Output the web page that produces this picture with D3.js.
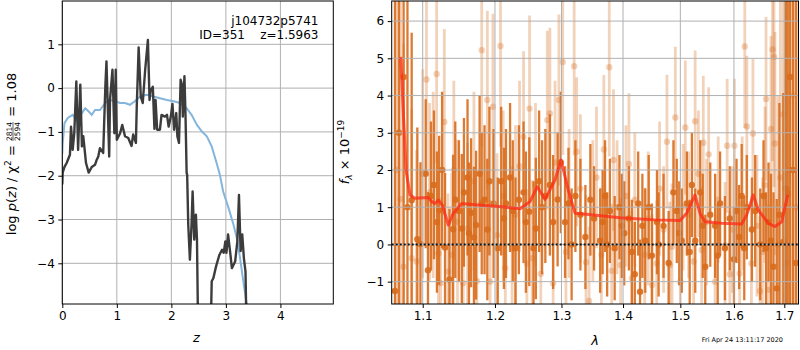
<!DOCTYPE html>
<html><head><meta charset="utf-8">
<script src="https://cdn.jsdelivr.net/npm/d3@7"></script>
<style>
body{margin:0;background:#fff}
svg{display:block}
text{font-family:"DejaVu Sans",sans-serif;fill:#000}
</style>
</head><body><svg id="c" width="800" height="350"></svg>
<script>
// ---------- Left panel data: log p(z) ----------
const zPz = [0,0.007,0.04,0.08,0.14,0.16,0.19,0.22,0.257,0.29,0.33,0.36,0.385,0.435,0.484,0.54,0.6,0.63,0.66,0.69,0.75,0.79,0.81,0.86,0.875,0.92,0.955,0.98,1.0,1.06,1.10,1.15,1.21,1.27,1.30,1.35,1.365,1.40,1.44,1.475,1.52,1.57,1.60,1.62,1.66,1.69,1.71,1.74,1.79,1.82,1.88,1.92,1.95,1.99,2.02,2.05,2.09,2.11,2.14,2.17,2.20,2.21,2.24,2.26,2.28,2.29,2.31,2.34,2.37,2.39,2.42,2.45,2.47,2.495,2.715,2.74,2.77,2.82,2.88,2.93,2.96,2.99,3.01,3.04,3.08,3.11,3.17,3.21,3.24,3.27,3.30,3.33,3.36,3.385];
const logPz = [-2.2,-1.93,-1.80,-1.71,-1.52,-0.88,-1.41,-1.02,0.15,-1.41,0.08,-1.33,-1.10,-1.71,-1.93,-1.80,-1.75,-1.64,-1.56,-1.37,-1.48,0.06,0.61,-1.56,-0.27,0.42,-1.03,0.42,-1.18,-1.03,-0.84,-1.10,-1.14,-1.32,-1.06,-1.25,-0.45,0.93,-0.20,-0.34,0.42,1.10,-0.27,-0.05,0.03,-0.93,-0.27,-0.95,-0.95,-0.61,-0.65,-0.61,-0.88,-0.65,-0.36,-0.95,-0.57,-1.10,-1.25,0.19,0.05,-0.65,0.27,-0.65,-1.93,-1.98,-3.12,-3.92,-3.12,-2.36,-3.46,-2.89,-3.46,-6,-6,-4.41,-4.34,-4.07,-3.81,-3.69,-3.76,-3.50,-3.76,-3.34,-3.76,-4.11,-3.96,-3.50,-2.44,-3.72,-3.34,-3.88,-4.19,-6];
const zPrior = [0,0.007,0.04,0.1,0.19,0.28,0.36,0.42,0.48,0.54,0.6,0.69,0.79,0.87,0.97,1.06,1.15,1.24,1.33,1.43,1.55,1.67,1.79,1.92,2.04,2.16,2.28,2.37,2.47,2.56,2.65,2.74,2.83,2.89,2.95,3.05,3.14,3.20,3.26,3.32,3.38,3.42];
const logPrior = [-1.5,-1.26,-0.80,-0.68,-0.61,-0.76,-0.57,-0.46,-0.53,-0.61,-0.50,-0.50,-0.34,-0.27,-0.30,-0.34,-0.34,-0.38,-0.30,-0.19,-0.15,-0.19,-0.23,-0.27,-0.30,-0.34,-0.46,-0.61,-0.84,-0.99,-1.10,-1.33,-1.71,-1.98,-2.36,-2.74,-3.12,-3.42,-3.88,-4.41,-4.92,-6];
const zTicks = [0,1,2,3,4];
const pzTicks = [-4,-3,-2,-1,0,1];

// ---------- Right panel data: spectrum ----------
const lamDark = [1.0639,1.069,1.075,1.080,1.0855,1.0929,1.097,1.104,1.107,1.111,1.115,1.119,1.122,1.126,1.130,1.136,1.141,1.144,1.149,1.153,1.156,1.161,1.163,1.166,1.170,1.173,1.178,1.181,1.185,1.189,1.192,1.198,1.204,1.209,1.213,1.216,1.222,1.226,1.230,1.235,1.242,1.2455,1.2506,1.257,1.2605,1.2655,1.270,1.275,1.282,1.287,1.294,1.299,1.3056,1.311,1.316,1.322,1.330,1.338,1.346,1.352,1.362,1.366,1.370,1.3735,1.378,1.386,1.394,1.398,1.402,1.4099,1.415,1.420,1.4258,1.429,1.433,1.438,1.444,1.4495,1.4584,1.4613,1.470,1.479,1.4876,1.4936,1.498,1.5026,1.5118,1.517,1.521,1.5272,1.5364,1.541,1.5457,1.555,1.5642,1.569,1.5735,1.5827,1.592,1.600,1.605,1.610,1.615,1.620,1.625,1.635,1.6414,1.6514,1.658,1.663,1.668,1.673,1.678,1.6846,1.690,1.698,1.703,1.707,1.712,1.718,1.724];
const fluxDark = [-1.25,3.0,4.5,1.0,1.19,0.14,0.01,1.9,-0.69,1.3,
  1.6,0.6,0.92,2.0,-0.08,-0.94,0.41,1.2,0.9,0.43,
  1.4,1.8,0.30,0.85,0.19,0.52,1.9,1.1,1.2,0.4,
  1.7,1.1,-0.1,1.7,0.7,1.1,1.8,0.9,-0.1,1.2,
  1.4,0.6,0.88,-0.1,0.43,1.7,1.0,1.3,1.6,0.6,
  1.21,2.2,0.6,1.1,0.0,1.3,0.8,0.2,1.2,0.7,
  0.1,0.6,1.3,0.0,0.9,-0.1,1.0,0.5,0.3,0.7,
  -0.2,-0.8,1.1,-1.27,0.5,0.1,1.0,-0.3,0.6,0.0,
  0.5,-0.5,1.4,0.9,0.3,0.1,1.1,-0.2,1.6,0.1,
  1.4,0.5,-0.6,0.8,0.5,-0.3,1.1,-0.1,0.7,-0.4,
  0.9,0.2,1.3,-0.1,1.0,0.4,0.9,0.0,1.3,-0.1,
  0.6,0.1,-0.6,-1.18,0.8,0.07,1.5,1.37,4.5,2.0,-0.5];
const errDark = [9,9,8,6.5,4.5,3.0,2.2,2.0,2.1,2.0,
  2.0,1.9,2.0,2.1,2.0,1.9,2.0,2.1,1.9,2.0,
  2.0,2.1,1.9,2.0,1.9,2.0,2.1,1.9,2.0,1.9,
  2.0,2.0,1.9,2.0,1.9,2.0,2.0,1.9,1.9,2.0,
  1.9,1.9,2.0,1.8,1.9,1.9,1.8,1.8,1.9,1.8,
  1.8,1.9,1.5,1.5,1.5,1.5,1.5,1.4,1.5,1.4,
  1.4,1.4,1.5,1.4,1.4,1.4,1.4,1.4,1.4,1.4,
  1.4,1.4,1.4,1.4,1.4,1.4,1.4,1.4,1.4,1.4,
  1.4,1.4,1.4,1.4,1.4,1.4,1.4,1.4,1.4,1.4,
  1.4,1.4,1.4,1.4,1.4,1.4,1.4,1.4,1.4,1.4,
  1.4,1.4,1.4,1.4,1.4,1.4,1.5,1.5,1.5,1.5,
  1.6,1.8,2.0,2.4,3.0,4,6,7,9,9,9];
const lamLight = [1.066,1.071,1.075,1.0855,1.0918,1.100,1.105,1.109,1.114,1.1186,1.121,1.124,1.129,1.134,1.139,1.142,1.147,1.155,1.161,1.170,1.174,1.181,1.189,1.193,1.197,1.203,1.208,1.212,1.215,1.225,1.230,1.236,1.242,1.247,1.251,1.255,1.260,1.268,1.278,1.282,1.287,1.290,1.296,1.302,1.307,1.312,1.320,1.324,1.330,1.339,1.344,1.350,1.356,1.364,1.368,1.377,1.381,1.384,1.390,1.396,1.405,1.410,1.415,1.420,1.437,1.443,1.450,1.458,1.463,1.470,1.476,1.481,1.485,1.491,1.500,1.505,1.509,1.515,1.524,1.527,1.533,1.539,1.542,1.548,1.552,1.564,1.570,1.583,1.587,1.592,1.597,1.601,1.611,1.616,1.621,1.625,1.634,1.637,1.645,1.651,1.656,1.661,1.663,1.668,1.673,1.676,1.679,1.681,1.687,1.692,1.698,1.704,1.711,1.718,1.725];
const fluxLight = [2.0,1.22,-0.6,-0.37,-0.46,1.9,4.43,1.40,1.6,4.58,-0.24,-1.04,3.29,-0.73,-0.28,2.0,0.61,-1.04,0.43,1.7,-0.98,5.22,3.88,-1.0,3.70,0.25,5.33,1.3,-0.64,-0.1,0.8,2.1,2.89,-0.51,3.65,-0.37,1.6,-0.79,3.34,3.52,-1.04,2.2,3.88,4.9,-0.2,1.1,4.79,2.49,1.5,-0.48,-1.52,0.9,1.8,-0.28,2.55,4.76,-0.71,2.27,1.0,-0.55,1.3,2.16,-0.91,1.2,-0.28,0.7,-1.09,-0.51,1.5,0.4,2.76,-0.55,-0.06,3.41,-1.0,1.0,3.14,0.8,-0.46,3.31,1.9,-0.15,2.73,0.6,2.42,-1.0,1.2,-0.02,2.65,-0.80,0.4,2.65,-0.78,1.1,5.32,3.17,-0.51,2.98,0.5,-1.25,-0.2,1.6,3.91,-1.22,3.10,5.24,5.04,2.71,0.0,1.8,3.5,-0.5,2.0,4.0,1.0];
const errLight = [8,7,6,4,3,2.8,2.6,2.4,2.5,2.4,2.2,2.3,2.5,2.1,2.2,2.4,2.2,2.0,2.3,2.4,2.0,2.6,2.4,2.2,2.5,2.2,2.7,2.3,2.1,2.2,2.4,2.3,2.3,2.0,2.5,2.1,2.2,2.0,2.4,2.3,2.0,2.2,2.3,2.5,2.0,2.0,2.4,2.0,2.0,1.8,2.0,1.9,1.9,1.8,2.0,2.4,1.8,1.9,1.8,1.8,1.9,1.9,1.8,1.8,1.8,1.8,1.9,1.7,1.8,1.7,1.8,1.7,1.7,1.9,1.8,1.7,1.8,1.7,1.7,1.9,1.7,1.7,1.8,1.7,1.8,1.8,1.7,1.7,1.8,1.7,1.7,1.8,1.8,1.8,2.2,1.9,1.8,2.0,1.9,2.0,2.0,2.1,2.2,2.3,2.5,3.0,3.5,3.0,4,5,6,8,9,9,9];
const lamModel = [1.0713,1.0745,1.0781,1.0833,1.0898,1.1074,1.1120,1.1164,1.1209,1.1263,1.1344,1.1413,1.1529,1.1761,1.2097,1.2367,1.2517,1.2627,1.2745,1.2899,1.2993,1.3107,1.3214,1.3401,1.3949,1.4549,1.4994,1.5115,1.5267,1.5359,1.5452,1.5766,1.6150,1.6247,1.6377,1.6476,1.6675,1.6811,1.6947,1.7069];
const fluxModel = [5.04,3.6,2.0,1.33,1.24,1.26,1.15,1.10,1.19,1.06,0.52,0.84,1.10,1.06,1.01,0.96,1.15,1.55,1.21,1.73,2.27,1.46,0.84,0.81,0.72,0.66,0.64,0.84,1.33,0.84,0.61,0.57,0.55,0.79,1.33,0.92,0.57,0.48,0.61,1.33];
const lamTicks = [1.1,1.2,1.3,1.4,1.5,1.6,1.7];
const fluxTicks = [-1,0,1,2,3,4,5,6];

// ---------- Drawing ----------
const svg = d3.select('#c');
svg.append('rect').attr('width',800).attr('height',350).attr('fill','#fff');
const gridC = '#b0b0b0', orange = '#d86b1c';

const L = {x0:62.3, x1:333.3, y0:1, y1:304};
const R = {x0:391.7, x1:798.5, y0:1, y1:304};
const xL = d3.scaleLinear().domain([0,4.97]).range([L.x0,L.x1]);
const yL = d3.scaleLinear().domain([-4.929,1.989]).range([L.y1,L.y0]);
const xR = d3.scaleLog().domain([1.0597,1.7293]).range([R.x0,R.x1]);
const yR = d3.scaleLinear().domain([-1.6,6.54]).range([R.y1,R.y0]);

const defs = svg.append('defs');
defs.append('clipPath').attr('id','clipL').append('rect').attr('x',L.x0).attr('y',L.y0).attr('width',L.x1-L.x0).attr('height',L.y1-L.y0);
defs.append('clipPath').attr('id','clipR').append('rect').attr('x',R.x0).attr('y',R.y0).attr('width',R.x1-R.x0).attr('height',R.y1-R.y0);

function grid(g, xs, ys, xt, yt, P){
  g.selectAll('line.gx').data(xt).join('line').attr('class','gx')
    .attr('x1',d=>xs(d)).attr('x2',d=>xs(d)).attr('y1',P.y0).attr('y2',P.y1)
    .attr('stroke',gridC).attr('stroke-width',1);
  g.selectAll('line.gy').data(yt).join('line').attr('class','gy')
    .attr('y1',d=>ys(d)).attr('y2',d=>ys(d)).attr('x1',P.x0).attr('x2',P.x1)
    .attr('stroke',gridC).attr('stroke-width',1);
}
function axes(xs, ys, xt, yt, P, xfmt, yfmt){
  const ax = svg.append('g').attr('transform',`translate(0,${P.y1})`)
    .call(d3.axisBottom(xs).tickValues(xt).tickFormat(xfmt).tickSize(4).tickPadding(3.5));
  const ay = svg.append('g').attr('transform',`translate(${P.x0},0)`)
    .call(d3.axisLeft(ys).tickValues(yt).tickFormat(yfmt).tickSize(4).tickPadding(3.5));
  [ax,ay].forEach(a=>{
    a.select('.domain').remove();
    a.selectAll('text').style('font-size','12px').style('font-family','"DejaVu Sans",sans-serif').attr('fill','#000');
    a.selectAll('line').attr('stroke','#000');
  });
  svg.append('rect').attr('x',P.x0).attr('y',P.y0).attr('width',P.x1-P.x0).attr('height',P.y1-P.y0)
    .attr('fill','none').attr('stroke','#000').attr('stroke-width',1);
}
const minus = d => (d<0?'\u2212':'') + Math.abs(d);

// Left panel
grid(svg.append('g'), xL, yL, zTicks, pzTicks, L);
const gl = svg.append('g').attr('clip-path','url(#clipL)');
gl.append('path').datum(zPrior.map((z,i)=>[z,logPrior[i]]))
  .attr('d', d3.line().x(d=>xL(d[0])).y(d=>yL(d[1])))
  .attr('fill','none').attr('stroke','#84b5dc').attr('stroke-width',2);
gl.append('path').datum(zPz.map((z,i)=>[z,logPz[i]]))
  .attr('d', d3.line().x(d=>xL(d[0])).y(d=>yL(d[1])))
  .attr('fill','none').attr('stroke','#3c3c3c').attr('stroke-width',2.4).attr('stroke-linejoin','round');
axes(xL, yL, zTicks, pzTicks, L, d=>String(d), minus);

// Right panel
const gr = svg.append('g').attr('clip-path','url(#clipR)');
const iL = d3.range(lamLight.length), iD = d3.range(lamDark.length);
gr.selectAll('line.el').data(iL).join('line').attr('class','el')
  .attr('x1',i=>xR(lamLight[i])).attr('x2',i=>xR(lamLight[i]))
  .attr('y1',i=>yR(fluxLight[i]-errLight[i])).attr('y2',i=>yR(fluxLight[i]+errLight[i]))
  .attr('stroke',orange).attr('stroke-opacity',0.3).attr('stroke-width',2.8);
gr.selectAll('circle.pl').data(iL).join('circle').attr('class','pl')
  .attr('cx',i=>xR(lamLight[i])).attr('cy',i=>yR(fluxLight[i])).attr('r',3.2)
  .attr('fill',orange).attr('fill-opacity',0.3);
gr.selectAll('line.ed').data(iD).join('line').attr('class','ed')
  .attr('x1',i=>xR(lamDark[i])).attr('x2',i=>xR(lamDark[i]))
  .attr('y1',i=>yR(fluxDark[i]-errDark[i])).attr('y2',i=>yR(fluxDark[i]+errDark[i]))
  .attr('stroke',orange).attr('stroke-opacity',0.9).attr('stroke-width',2.3);
gr.selectAll('circle.pd').data(iD).join('circle').attr('class','pd')
  .attr('cx',i=>xR(lamDark[i])).attr('cy',i=>yR(fluxDark[i])).attr('r',3.2)
  .attr('fill',orange).attr('fill-opacity',0.9);
grid(svg.append('g'), xR, yR, lamTicks, fluxTicks, R);
const gm = svg.append('g').attr('clip-path','url(#clipR)');
gm.append('path').datum(lamModel.map((l,i)=>[l,fluxModel[i]]))
  .attr('d', d3.line().x(d=>xR(d[0])).y(d=>yR(d[1])))
  .attr('fill','none').attr('stroke','#ff2a14').attr('stroke-opacity',0.75).attr('stroke-width',3).attr('stroke-linejoin','round');
gm.append('line').attr('x1',R.x0).attr('x2',R.x1).attr('y1',yR(0)).attr('y2',yR(0))
  .attr('stroke','#111').attr('stroke-width',2).attr('stroke-dasharray','2,2');
axes(xR, yR, lamTicks, fluxTicks, R, d3.format('.1f'), minus);

// ---------- Text ----------
svg.append('text').attr('x',318.5).attr('y',24.5).attr('text-anchor','end').style('font-size','12px').text('j104732p5741');
svg.append('text').attr('x',318.5).attr('y',38.5).attr('text-anchor','end').style('font-size','12px').style('white-space','pre').text('ID=351    z=1.5963');
svg.append('text').attr('x',196.5).attr('y',342).attr('text-anchor','middle').style('font-size','13px').style('font-style','italic').text('z');
svg.append('text').attr('x',595).attr('y',345).attr('text-anchor','middle').style('font-size','13px').style('font-style','italic').text('λ');
svg.append('text').attr('x',701.7).attr('y',341.5).style('font-size','6.5px').text('Fri Apr 24 13:11:17 2020');

function rich(cy, bx, parts){
  const g = svg.append('g');
  const inner = g.append('g');
  let cur = 0;
  parts.forEach(p=>{
    if(p.frac){
      const n = inner.append('text').attr('x',cur).attr('y',p.ny).style('font-size',p.size+'px').text(p.frac[0]);
      const d = inner.append('text').attr('x',cur).attr('y',p.dy).style('font-size',p.size+'px').text(p.frac[1]);
      const w = Math.max(n.node().getComputedTextLength(), d.node().getComputedTextLength());
      inner.append('line').attr('x1',cur).attr('x2',cur+w).attr('y1',p.by).attr('y2',p.by).attr('stroke','#000').attr('stroke-width',0.6);
      cur += w + 1;
    } else {
      const t = inner.append('text').attr('x',cur).attr('y',p.dy||0).style('font-size',(p.size||13)+'px')
        .style('font-style',p.it?'italic':'normal').style('white-space','pre').text(p.t);
      cur += t.node().getComputedTextLength();
    }
  });
  inner.attr('transform',`translate(${-cur/2},0)`);
  g.attr('transform',`translate(${bx},${cy}) rotate(-90)`);
}
rich(154, 15.5, [
  {t:'log '},{t:'p',it:true},{t:'('},{t:'z',it:true},{t:') / χ'},{t:'2',size:9,dy:-5},{t:' = '},
  {frac:['2814','2594'],size:7.5,ny:-4,dy:4.5,by:-2.5},{t:' = 1.08'}
]);
rich(152, 349, [
  {t:'f',it:true},{t:'λ',it:true,size:9,dy:3},{t:' × 10'},{t:'−19',size:9,dy:-5}
]);
</script></body></html>
